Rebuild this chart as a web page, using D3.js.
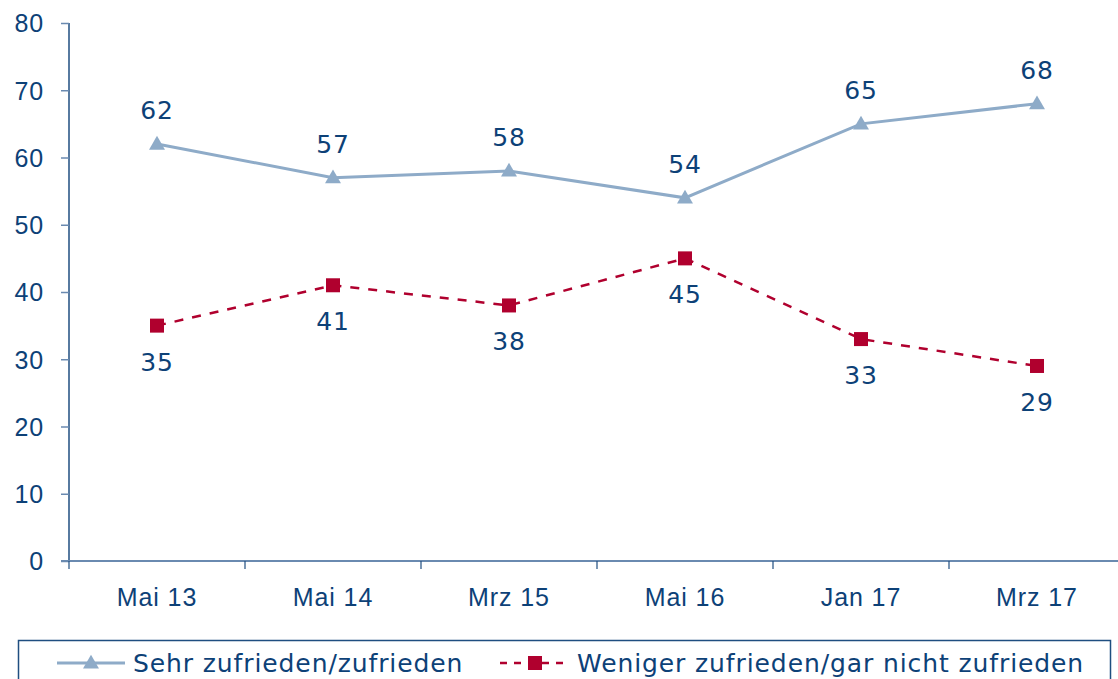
<!DOCTYPE html>
<html>
<head>
<meta charset="utf-8">
<script src="https://cdn.jsdelivr.net/npm/d3@7"></script>
<style>
  body { margin: 0; background: #fff; }
  svg { display: block; font-family: "DejaVu Sans", Verdana, sans-serif; }
  svg text { letter-spacing: 0.9px; }
</style>
</head>
<body>
<svg id="chart" width="1118" height="679"></svg>
<script>
const categories = ["Mai 13", "Mai 14", "Mrz 15", "Mai 16", "Jan 17", "Mrz 17"];
const satisfied = [62, 57, 58, 54, 65, 68];
const dissatisfied = [35, 41, 38, 45, 33, 29];
const yTicks = [0, 10, 20, 30, 40, 50, 60, 70, 80];
const seriesNames = ["Sehr zufrieden/zufrieden", "Weniger zufrieden/gar nicht zufrieden"];

const textColor = "#0d4177";
const color1 = "#8eabc8";
const color2 = "#b0002e";
const fontSize = "25px";

const margin = { top: 23, left: 69 };
const width = 1056, height = 538;

const svg = d3.select("#chart");
const g = svg.append("g").attr("transform", "translate(" + margin.left + "," + margin.top + ")");

const x = d3.scaleBand().domain(categories).range([0, width]);
const y = d3.scaleLinear().domain([0, 80]).range([height, 0]);

// y axis
const yAxis = g.append("g").call(d3.axisLeft(y).tickValues(yTicks).tickSize(8).tickPadding(17));
yAxis.select(".domain").attr("stroke", "#1f4e80").attr("stroke-width", 1.5).attr("d", "M0," + height + "V0");
yAxis.selectAll(".tick line").attr("stroke", "#6a8ab0").attr("stroke-width", 1.5);
yAxis.selectAll(".tick text").attr("fill", textColor).style("font-size", fontSize).attr("dy", "0.35em");

// x axis
const xAxis = g.append("g").attr("transform", "translate(0," + height + ")")
  .call(d3.axisBottom(x).tickSize(0).tickPadding(27));
xAxis.select(".domain").attr("stroke", "#6a8ab0").attr("stroke-width", 2).attr("d", "M-8,0H" + width);
xAxis.selectAll(".tick text").attr("fill", textColor).style("font-size", fontSize);
// boundary ticks between categories
g.append("g").selectAll("line")
  .data(categories)
  .join("line")
  .attr("x1", d => x(d)).attr("x2", d => x(d))
  .attr("y1", height).attr("y2", height + 8)
  .attr("stroke", "#1f4e80").attr("stroke-width", 1.2);

const cx = d => x(d) + x.bandwidth() / 2;
const line = d3.line().x(d => cx(d[0])).y(d => y(d[1]));

const s1 = categories.map((c, i) => [c, satisfied[i]]);
const s2 = categories.map((c, i) => [c, dissatisfied[i]]);

g.append("path").datum(s1).attr("d", line)
  .attr("fill", "none").attr("stroke", color1).attr("stroke-width", 3);
g.append("path").datum(s2).attr("d", line)
  .attr("fill", "none").attr("stroke", color2).attr("stroke-width", 2.5)
  .attr("stroke-dasharray", "9,9");

const tri = d3.symbol().type(d3.symbolTriangle).size(110);
g.append("g").selectAll("path").data(s1).join("path")
  .attr("d", tri)
  .attr("transform", d => "translate(" + cx(d[0]) + "," + (y(d[1]) + 1) + ")")
  .attr("fill", color1);

g.append("g").selectAll("rect").data(s2).join("rect")
  .attr("x", d => cx(d[0]) - 7).attr("y", d => y(d[1]) - 7)
  .attr("width", 14).attr("height", 14)
  .attr("fill", color2);

// value labels
g.append("g").selectAll("text").data(s1).join("text")
  .attr("x", d => cx(d[0])).attr("y", d => y(d[1]) - 25)
  .attr("text-anchor", "middle").attr("fill", textColor).style("font-size", fontSize)
  .text(d => d[1]);
g.append("g").selectAll("text").data(s2).join("text")
  .attr("x", d => cx(d[0])).attr("y", d => y(d[1]) + 45)
  .attr("text-anchor", "middle").attr("fill", textColor).style("font-size", fontSize)
  .text(d => d[1]);

// legend
const legend = svg.append("g");
legend.append("rect").attr("x", 18.5).attr("y", 640.5).attr("width", 1092).attr("height", 60)
  .attr("fill", "none").attr("stroke", "#1f4e80").attr("stroke-width", 1.5);

const ly = 663;
legend.append("line").attr("x1", 57).attr("x2", 125).attr("y1", ly).attr("y2", ly)
  .attr("stroke", color1).attr("stroke-width", 3);
legend.append("path").attr("d", tri).attr("transform", "translate(91," + (ly + 1) + ")").attr("fill", color1);
legend.append("text").attr("x", 133).attr("y", ly).attr("dy", "0.35em")
  .attr("fill", textColor).style("font-size", fontSize).text(seriesNames[0]);

legend.append("line").attr("x1", 500).attr("x2", 568).attr("y1", ly).attr("y2", ly)
  .attr("stroke", color2).attr("stroke-width", 2.5).attr("stroke-dasharray", "7,7");
legend.append("rect").attr("x", 528).attr("y", ly - 7).attr("width", 14).attr("height", 14).attr("fill", color2);
legend.append("text").attr("x", 577).attr("y", ly).attr("dy", "0.35em")
  .attr("fill", textColor).style("font-size", fontSize).text(seriesNames[1]);
</script>
</body>
</html>
